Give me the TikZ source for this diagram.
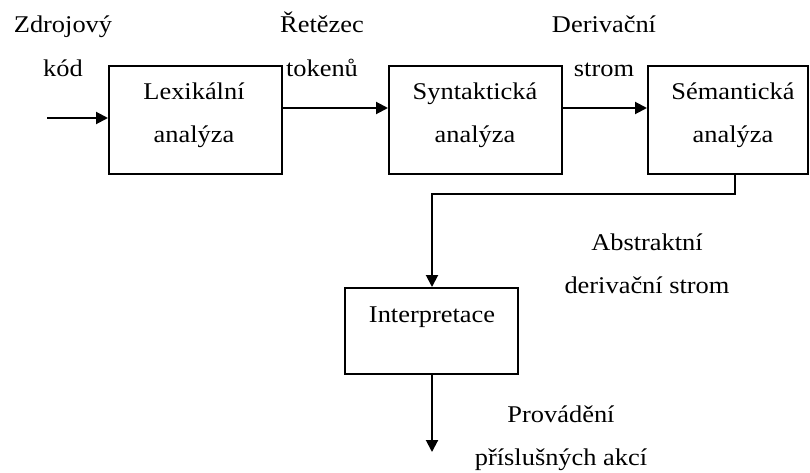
\documentclass[tikz,border=0pt]{standalone}
\usepackage{fontspec}
\setmainfont{Liberation Serif}[FakeStretch=1.1]
\usetikzlibrary{arrows.meta,calc}
\tikzset{
  stage/.style={draw, line width=2pt, rectangle, inner sep=0pt},
  lbl/.style={anchor=base, inner sep=0pt, font=\fontsize{24}{28}\selectfont},
  arr/.style={line width=2pt, -{Triangle[length=12pt,width=12pt]}}
}
\begin{document}
\begin{tikzpicture}[x=1pt,y=-1pt]
  \useasboundingbox (0,0) rectangle (810,473);

  % processing stages
  \node[stage, minimum width=173pt, minimum height=108pt] (lex) at (195.5,120) {};
  \node[stage, minimum width=173pt, minimum height=108pt] (syn) at (475.5,120) {};
  \node[stage, minimum width=160pt, minimum height=108pt] (sem) at (728,120) {};
  \node[stage, minimum width=173pt, minimum height=86pt] (interp) at (431.5,331) {};

  % stage captions
  \node[lbl] (lexA) at (194,100) {Lexikální};
  \node[lbl] (lexB) at (194,143) {analýza};
  \node[lbl] (synA) at (475,100) {Syntaktická};
  \node[lbl] (synB) at (475,143) {analýza};
  \node[lbl] (semA) at (733,100) {Sémantická};
  \node[lbl] (semB) at (733,143) {analýza};
  \node[lbl] (intA) at (432,322) {Interpretace};

  % data passed between stages
  \node[lbl] (srcA) at (63,33) {Zdrojový};
  \node[lbl] (srcB) at (63,77) {kód};
  \node[lbl] (tokA) at (322,33) {Řetězec};
  \node[lbl] (tokB) at (322,77) {tokenů};
  \node[lbl] (derA) at (604,33) {Derivační};
  \node[lbl] (derB) at (604,77) {strom};
  \node[lbl] (absA) at (647,250) {Abstraktní};
  \node[lbl] (absB) at (647,293) {derivační strom};
  \node[lbl] (actA) at (561,422) {Provádění};
  \node[lbl] (actB) at (561,465) {příslušných akcí};

  % connectors
  \coordinate (in) at (47,118);
  \coordinate (out) at (432,452);
  \coordinate (turn) at (735,194);
  \coordinate (join) at (432,194);

  \draw[arr] (in) -- (in -| lex.west);
  \draw[arr] ($(lex.east)+(0,-12)$) -- ($(syn.west)+(0,-12)$);
  \draw[arr] ($(syn.east)+(0,-12)$) -- ($(sem.west)+(0,-12)$);
  \draw[arr] (turn |- sem.south) -- (turn) -- (join) -- (join |- interp.north);
  \draw[arr] (interp.south -| out) -- (out);
\end{tikzpicture}
\end{document}
